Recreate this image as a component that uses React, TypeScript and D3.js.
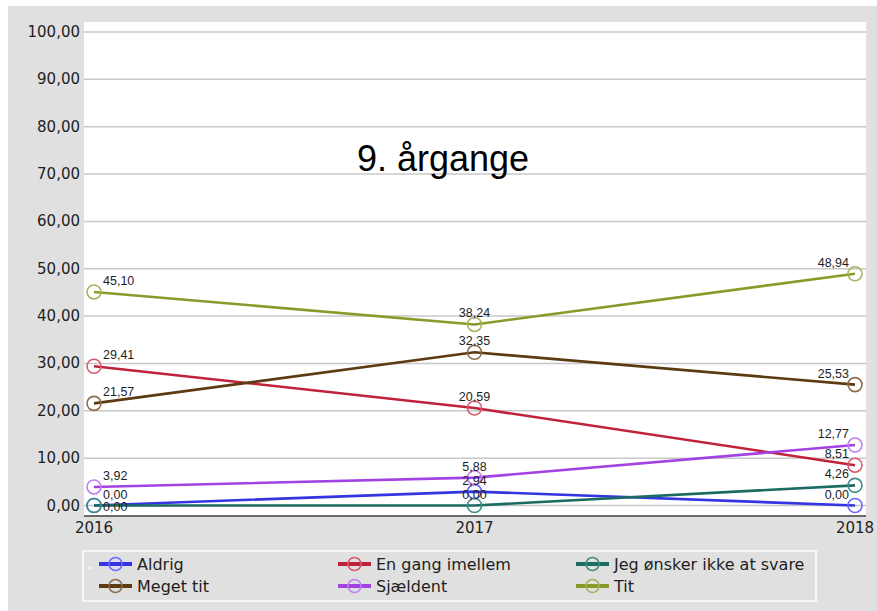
import * as d3 from "d3";

const years = ["2016", "2017", "2018"];
const yTicks = [0, 10, 20, 30, 40, 50, 60, 70, 80, 90, 100];

const seriesNames = [
  "Aldrig",
  "En gang imellem",
  "Jeg ønsker ikke at svare",
  "Meget tit",
  "Sjældent",
  "Tit",
];
const aldrig = [0, 2.94, 0];
const enGang = [29.41, 20.59, 8.51];
const jegOnsker = [0, 0, 4.26];
const megetTit = [21.57, 32.35, 25.53];
const sjaeldent = [3.92, 5.88, 12.77];
const tit = [45.1, 38.24, 48.94];
const seriesValues = [aldrig, enGang, jegOnsker, megetTit, sjaeldent, tit];

const lineColors = ["#3434e0", "#c0223c", "#1b6b60", "#5c3a12", "#a242e2", "#8a9a2a"];
const markerColors = ["#6a6aff", "#d85a6c", "#3f8c88", "#8c6c4c", "#c07ff2", "#a9b15e"];

const W = 877;
const H = 611;
const plot = { left: 84, right: 866, top: 22, bottom: 517 };

const fmt = (v: number) => v.toFixed(2).replace(".", ",");

export default function App() {
  const x = d3
    .scalePoint<string>()
    .domain(years)
    .range([94, 855]);
  const y = d3.scaleLinear().domain([0, 100]).range([505.5, 32]);

  const line = d3
    .line<number>()
    .x((_, i) => x(years[i])!)
    .y((d) => y(d));

  // value labels, nudged down when two land on the same spot
  const labels: { x: number; y: number; text: string; anchor: string }[] = [];
  years.forEach((yr, i) => {
    const placed: number[] = [];
    seriesValues.forEach((vals) => {
      let ly = y(vals[i]) - 11;
      while (placed.some((p) => Math.abs(p - ly) < 5)) ly += 12.5;
      placed.push(ly);
      const px = x(yr)!;
      const anchor = i === 0 ? "start" : i === years.length - 1 ? "end" : "middle";
      const lx = i === 0 ? px + 9 : i === years.length - 1 ? px - 6 : px;
      labels.push({ x: lx, y: ly, text: fmt(vals[i]), anchor });
    });
  });

  const legendCols = [99, 338, 576];
  const legendRows = [564, 586];

  return (
    <svg
      width={W}
      height={H}
      style={{ position: "absolute", left: 0, top: 0 }}
      fontFamily="'DejaVu Sans', Verdana, sans-serif"
    >
      <rect x={0} y={0} width={W} height={H} fill="#ffffff" />
      <rect x={8} y={6} width={W - 8} height={H - 6} fill="#e0e0e0" />
      <rect
        x={plot.left}
        y={plot.top}
        width={plot.right - plot.left}
        height={plot.bottom - plot.top}
        fill="#ffffff"
      />
      {yTicks.map((t) => (
        <g key={t}>
          <line
            x1={plot.left}
            x2={plot.right}
            y1={y(t)}
            y2={y(t)}
            stroke="#c8c8c8"
            strokeWidth={1.5}
          />
          <text
            x={80}
            y={y(t)}
            textAnchor="end"
            dominantBaseline="central"
            fontSize={15}
            fill="#1e1e1e"
          >
            {fmt(t)}
          </text>
        </g>
      ))}
      <line
        x1={plot.left}
        x2={plot.right}
        y1={plot.bottom - 1}
        y2={plot.bottom - 1}
        stroke="#6a6a6a"
        strokeWidth={2}
      />
      {years.map((yr) => (
        <text
          key={yr}
          x={x(yr)!}
          y={528}
          textAnchor="middle"
          dominantBaseline="central"
          fontSize={15}
          fill="#1e1e1e"
        >
          {yr}
        </text>
      ))}
      <text
        x={443}
        y={171}
        textAnchor="middle"
        fontFamily="'Liberation Sans', Arial, sans-serif"
        fontSize={36}
        fill="#000"
      >
        9. årgange
      </text>
      {seriesValues.map((vals, s) => (
        <g key={s}>
          <path
            d={line(vals)!}
            fill="none"
            stroke={lineColors[s]}
            strokeWidth={2.6}
          />
          {vals.map((v, i) => (
            <circle
              key={i}
              cx={x(years[i])!}
              cy={y(v)}
              r={7}
              fill="none"
              stroke={markerColors[s]}
              strokeWidth={1.6}
            />
          ))}
        </g>
      ))}
      {labels.map((l, i) => (
        <text
          key={i}
          x={l.x}
          y={l.y}
          textAnchor={l.anchor}
          dominantBaseline="central"
          fontFamily="'Liberation Sans', Arial, sans-serif"
          fontSize={12.5}
          fill="#1e1e1e"
        >
          {l.text}
        </text>
      ))}
      <rect
        x={83}
        y={551}
        width={733}
        height={50}
        fill="none"
        stroke="#f6f6f6"
        strokeWidth={2}
      />
      <rect x={89} y={567} width={2} height={2} fill="#ffffff" />
      {seriesNames.map((name, s) => {
        const lx = legendCols[s % 3];
        const ly = legendRows[Math.floor(s / 3)];
        return (
          <g key={name}>
            <line
              x1={lx}
              x2={lx + 33}
              y1={ly}
              y2={ly}
              stroke={lineColors[s]}
              strokeWidth={4}
            />
            <circle
              cx={lx + 16.5}
              cy={ly}
              r={6.5}
              fill="none"
              stroke={markerColors[s]}
              strokeWidth={1.5}
            />
            <text
              x={lx + 38}
              y={ly}
              dominantBaseline="central"
              fontSize={16}
              fill="#1e1e1e"
            >
              {name}
            </text>
          </g>
        );
      })}
    </svg>
  );
}
